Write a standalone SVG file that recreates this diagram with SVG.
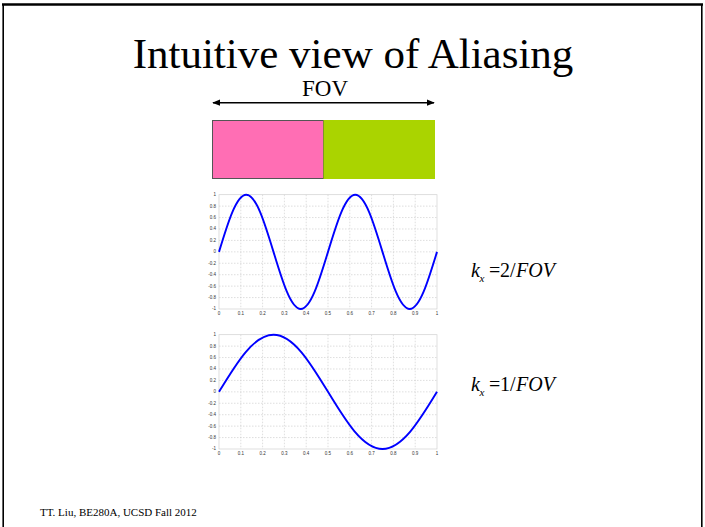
<svg xmlns="http://www.w3.org/2000/svg" width="705" height="527" viewBox="0 0 705 527">
<style>
.t{font-family:"Liberation Serif","Times New Roman",serif;fill:#000}
.eq{font-family:"Liberation Serif","Times New Roman",serif;font-style:italic;font-size:20px}
.eqn{font-family:"Liberation Serif","Times New Roman",serif;font-size:20px}
.sub{font-family:"Liberation Serif","Times New Roman",serif;font-style:italic;font-size:11px}
.grid{stroke:#c8c8c8;stroke-width:0.6;stroke-dasharray:1.5,1.5;fill:none}
.box{stroke:#d0d0d0;stroke-width:0.7;fill:none}
.tick{font-family:"Liberation Sans",Arial,sans-serif;font-size:4.5px;fill:#333}
.curve{stroke:#0000ff;stroke-width:1.9;fill:none}
</style>
<defs>
<marker id="ah" viewBox="0 0 10 10" refX="9" refY="5" markerWidth="8" markerHeight="8" orient="auto-start-reverse" markerUnits="userSpaceOnUse">
<path d="M0,1 L10,5 L0,9 Z" fill="#000"/>
</marker>
<g id="gridcells">
<path class="grid" d="M240.8,0V114.3M262.6,0V114.3M284.4,0V114.3M306.2,0V114.3M328,0V114.3M349.8,0V114.3M371.6,0V114.3M393.4,0V114.3M415.2,0V114.3M219,11.43H437M219,22.86H437M219,34.29H437M219,45.72H437M219,57.15H437M219,68.58H437M219,80.01H437M219,91.44H437M219,102.87H437"/>
<rect class="box" x="219" y="0" width="218" height="114.3"/>
<g class="tick" text-anchor="end">
<text x="216" y="1.5">1</text><text x="216" y="12.9">0.8</text><text x="216" y="24.4">0.6</text><text x="216" y="35.8">0.4</text><text x="216" y="47.2">0.2</text><text x="216" y="58.7">0</text><text x="216" y="70.1">-0.2</text><text x="216" y="81.5">-0.4</text><text x="216" y="92.9">-0.6</text><text x="216" y="104.4">-0.8</text><text x="216" y="115.8">-1</text>
</g>
<g class="tick" text-anchor="middle">
<text x="219" y="120">0</text><text x="240.8" y="120">0.1</text><text x="262.6" y="120">0.2</text><text x="284.4" y="120">0.3</text><text x="306.2" y="120">0.4</text><text x="328" y="120">0.5</text><text x="349.8" y="120">0.6</text><text x="371.6" y="120">0.7</text><text x="393.4" y="120">0.8</text><text x="415.2" y="120">0.9</text><text x="437" y="120">1</text>
</g>
</g>
</defs>
<g id="frame" stroke="#000" fill="none">
<line x1="2" y1="4.5" x2="703" y2="4.5" stroke-width="2.5"/>
<line x1="3.2" y1="4" x2="3.2" y2="527" stroke-width="1.6"/>
<line x1="701.8" y1="4" x2="701.8" y2="527" stroke-width="1.6"/>
</g>
<g id="title"><text class="t" x="353" y="68" font-size="43" text-anchor="middle">Intuitive view of Aliasing</text></g>
<g id="fov-label"><text class="t" x="325" y="96" font-size="23" text-anchor="middle">FOV</text></g>
<g id="connectors">
<line x1="213" y1="102.7" x2="434" y2="102.7" stroke="#000" stroke-width="1.6" marker-start="url(#ah)" marker-end="url(#ah)"/>
</g>
<g id="pink-block"><rect x="212.5" y="120.5" width="111" height="58" fill="#ff6eb4" stroke="#555" stroke-width="1"/></g>
<g id="green-block"><rect x="323.5" y="120" width="111.5" height="59" fill="#aad400"/></g>
<g id="plot1">
<use href="#gridcells" y="194.7"/>
<path class="curve" d="M219,251.85 c8.887,-29.277 17.388,-57.15 27.25,-57.15 s18.363,27.873 27.25,57.15 s17.388,57.15 27.25,57.15 s18.363,-27.873 27.25,-57.15 s17.388,-57.15 27.25,-57.15 s18.363,27.873 27.25,57.15 s17.388,57.15 27.25,57.15 s18.363,-27.873 27.25,-57.15"/>
</g>
<g id="plot2">
<use href="#gridcells" y="334.7"/>
<path class="curve" d="M219,391.85 c17.775,-29.277 34.776,-57.15 54.5,-57.15 s36.725,27.873 54.5,57.15 s34.776,57.15 54.5,57.15 s36.725,-27.873 54.5,-57.15"/>
</g>
<g id="eq1">
<text class="eq" x="471" y="277">k</text>
<text class="sub" x="479.5" y="282">x</text>
<text class="eqn" x="489" y="277">=</text>
<text class="eqn" x="500" y="277">2</text>
<text class="eqn" x="510" y="277">/</text>
<text class="eq" x="516" y="277">FOV</text>
</g>
<g id="eq2">
<text class="eq" x="471" y="391">k</text>
<text class="sub" x="479.5" y="396">x</text>
<text class="eqn" x="489" y="391">=</text>
<text class="eqn" x="500" y="391">1</text>
<text class="eqn" x="510" y="391">/</text>
<text class="eq" x="516" y="391">FOV</text>
</g>
<g id="footer"><text class="t" x="40" y="516" font-size="11">TT. Liu, BE280A, UCSD Fall 2012</text></g>
</svg>
